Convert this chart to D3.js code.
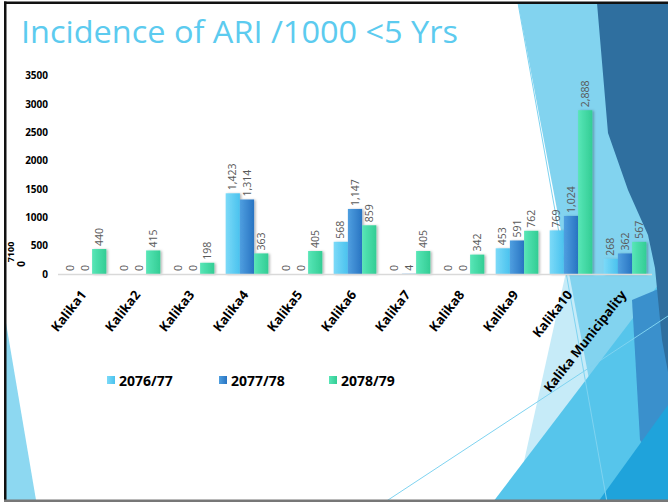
<!DOCTYPE html>
<html>
<head>
<meta charset="utf-8">
<script src="https://cdnjs.cloudflare.com/ajax/libs/d3/7.8.5/d3.min.js"></script>
<style>
  html, body { margin: 0; padding: 0; background: #fff; }
  svg { display: block; }
</style>
</head>
<body>
<div id="viz"></div>
<script>
// chart values
var categories = ["Kalika1", "Kalika2", "Kalika3", "Kalika4", "Kalika5", "Kalika6",
  "Kalika7", "Kalika8", "Kalika9", "Kalika10", "Kalika Municipality"];
var seriesNames = ["2076/77", "2077/78", "2078/79"];
var values7677 = [0, 0, 0, 1423, 0, 568, 0, 0, 453, 769, 268];
var values7778 = [0, 0, 0, 1314, 0, 1147, 4, 0, 591, 1024, 362];
var values7879 = [440, 415, 198, 363, 405, 859, 405, 342, 762, 2888, 567];
var yTicks = [0, 500, 1000, 1500, 2000, 2500, 3000, 3500];

var width = 668;
var height = 502;

// gradient colours for each series (light edge, dark edge)
var seriesColors = [
  ["#7cdaf8", "#4ac2ee"],
  ["#4f9fe0", "#2874c2"],
  ["#58e6b7", "#32cd94"]
];

var svg = d3.select("#viz").append("svg")
  .attr("width", width)
  .attr("height", height);

var defs = svg.append("defs");

seriesColors.forEach(function (c, i) {
  var g = defs.append("linearGradient")
    .attr("id", "grad" + i)
    .attr("x1", 0).attr("x2", 1).attr("y1", 0).attr("y2", 0);
  g.append("stop").attr("offset", "0%").attr("stop-color", c[0]);
  g.append("stop").attr("offset", "100%").attr("stop-color", c[1]);
});

var shadow = defs.append("filter").attr("id", "shadow")
  .attr("x", "-20%").attr("y", "-10%").attr("width", "150%").attr("height", "130%");
shadow.append("feDropShadow")
  .attr("dx", 1.5).attr("dy", 0.5).attr("stdDeviation", 1)
  .attr("flood-color", "#000").attr("flood-opacity", 0.3);

// ---- slide background decoration (facet theme shapes) ----
var deco = svg.append("g").attr("class", "deco");

var shapes = [
  { fill: "#c6ebf8", pts: [[515, 502], [572, 245], [668, 245], [668, 502]] },
  { fill: "#82d3ef", pts: [[518, 3], [668, 3], [668, 430], [592, 395]] },
  { fill: "#56c5eb", pts: [[493, 502], [668, 272], [668, 502]] },
  { fill: "#3a90cc", pts: [[632, 300], [668, 285], [668, 480], [640, 440]] },
  { fill: "#2f6f9f", pts: [[597, 3], [668, 3], [668, 372], [662, 340], [655, 268], [648, 235], [628, 190], [608, 133]] },
  { fill: "#1fa3db", pts: [[598, 502], [668, 405], [668, 502]] }
];

deco.selectAll("polygon.shape")
  .data(shapes)
  .enter().append("polygon")
  .attr("class", "shape")
  .attr("fill", function (d) { return d.fill; })
  .attr("points", function (d) { return d.pts.map(function (p) { return p.join(","); }).join(" "); });

// left corner sliver
deco.append("polygon")
  .attr("fill", "#8dd8f1")
  .attr("points", "5,317 5,500 36,500");

// thin accent lines
deco.append("line")
  .attr("x1", 385).attr("y1", 502).attr("x2", 668).attr("y2", 316)
  .attr("stroke", "#7fd3f0").attr("stroke-width", 1);
deco.append("line")
  .attr("x1", 518).attr("y1", 3).attr("x2", 607).attr("y2", 502)
  .attr("stroke", "#7fd3f0").attr("stroke-width", 1);

// slide border
svg.append("rect").attr("x", 4).attr("y", 1.5).attr("width", width - 4).attr("height", 2.5).attr("fill", "#111");
svg.append("rect").attr("x", 4).attr("y", 1.5).attr("width", 2.5).attr("height", height).attr("fill", "#111");
svg.append("rect").attr("x", 4).attr("y", 499.5).attr("width", width - 4).attr("height", 2.5).attr("fill", "#777");

// title
svg.append("text")
  .attr("x", 21)
  .attr("y", 43)
  .attr("font-family", "'Open Sans', sans-serif")
  .attr("font-size", 31)
  .attr("fill", "#5ccbef")
  .attr("textLength", 437)
  .attr("lengthAdjust", "spacingAndGlyphs")
  .text("Incidence of ARI /1000 <5 Yrs");

// ---- chart ----
var x0 = d3.scaleBand()
  .domain(categories)
  .range([58, 652])
  .paddingInner(0.21)
  .paddingOuter(0.105);

var x1 = d3.scaleBand()
  .domain(seriesNames)
  .range([0, x0.bandwidth()]);

var y = d3.scaleLinear()
  .domain([0, 3500])
  .range([274, 75.5]);

var seriesValues = [values7677, values7778, values7879];

var rows = categories.map(function (c, i) {
  return {
    category: c,
    bars: seriesNames.map(function (s, j) {
      return { series: s, index: j, value: seriesValues[j][i] };
    })
  };
});

// y axis labels (no line, no ticks)
var yAxis = svg.append("g")
  .attr("transform", "translate(48,0)")
  .call(d3.axisLeft(y).tickValues(yTicks).tickFormat(d3.format("d")).tickSize(0).tickPadding(0));
yAxis.select(".domain").remove();
yAxis.selectAll("text")
  .attr("font-family", "'Open Sans', sans-serif")
  .attr("font-size", 10)
  .attr("font-weight", "bold")
  .attr("fill", "#000");

// stray secondary axis remnants at the left edge
svg.append("text")
  .attr("transform", "translate(14,252) rotate(-90)")
  .attr("text-anchor", "middle")
  .attr("font-family", "'Open Sans', sans-serif")
  .attr("font-size", 9)
  .attr("font-weight", "bold")
  .text("7100");
svg.append("text")
  .attr("transform", "translate(25,264) rotate(-90)")
  .attr("text-anchor", "middle")
  .attr("font-family", "'Open Sans', sans-serif")
  .attr("font-size", 10)
  .attr("font-weight", "bold")
  .text("0");

var groups = svg.selectAll("g.group")
  .data(rows)
  .enter().append("g")
  .attr("class", "group")
  .attr("transform", function (d) { return "translate(" + x0(d.category) + ",0)"; });

groups.selectAll("rect")
  .data(function (d) { return d.bars; })
  .enter().append("rect")
  .attr("x", function (d) { return x1(d.series); })
  .attr("y", function (d) { return y(d.value); })
  .attr("width", x1.bandwidth())
  .attr("height", function (d) { return y(0) - y(d.value); })
  .attr("fill", function (d) { return "url(#grad" + d.index + ")"; })
  .attr("filter", "url(#shadow)");

// data labels, rotated
var fmt = d3.format(",");
groups.selectAll("text.val")
  .data(function (d) { return d.bars; })
  .enter().append("text")
  .attr("class", "val")
  .attr("transform", function (d) {
    return "translate(" + (x1(d.series) + x1.bandwidth() / 2) + "," + (y(d.value) - 3) + ") rotate(-90)";
  })
  .attr("dy", "0.35em")
  .attr("font-family", "'Open Sans', sans-serif")
  .attr("font-size", 10.5)
  .attr("fill", "#595959")
  .text(function (d) { return fmt(d.value); });

// baseline
svg.append("line")
  .attr("x1", 58).attr("x2", 652)
  .attr("y1", y(0) + 0.5).attr("y2", y(0) + 0.5)
  .attr("stroke", "#d9d9d9").attr("stroke-width", 1.5);

// category labels (slide image is stretched, so the angle is steep)
svg.selectAll("text.cat")
  .data(categories)
  .enter().append("text")
  .attr("class", "cat")
  .attr("transform", function (d) {
    return "translate(" + (x0(d) + x0.bandwidth() / 2 + 2) + ",295) rotate(-52)";
  })
  .attr("text-anchor", "end")
  .attr("font-family", "'Open Sans', sans-serif")
  .attr("font-size", 13)
  .attr("font-weight", "bold")
  .attr("fill", "#000")
  .text(function (d) { return d; });

// legend
var legendX = [107, 219, 329];
var legend = svg.selectAll("g.legend")
  .data(seriesNames)
  .enter().append("g")
  .attr("class", "legend")
  .attr("transform", function (d, i) { return "translate(" + legendX[i] + ",376)"; });

legend.append("rect")
  .attr("width", 8).attr("height", 8)
  .attr("fill", function (d, i) { return "url(#grad" + i + ")"; });

legend.append("text")
  .attr("x", 12)
  .attr("y", 9.5)
  .attr("font-family", "'Open Sans', sans-serif")
  .attr("font-size", 14)
  .attr("font-weight", "bold")
  .attr("fill", "#000")
  .text(function (d) { return d; });
</script>
</body>
</html>
